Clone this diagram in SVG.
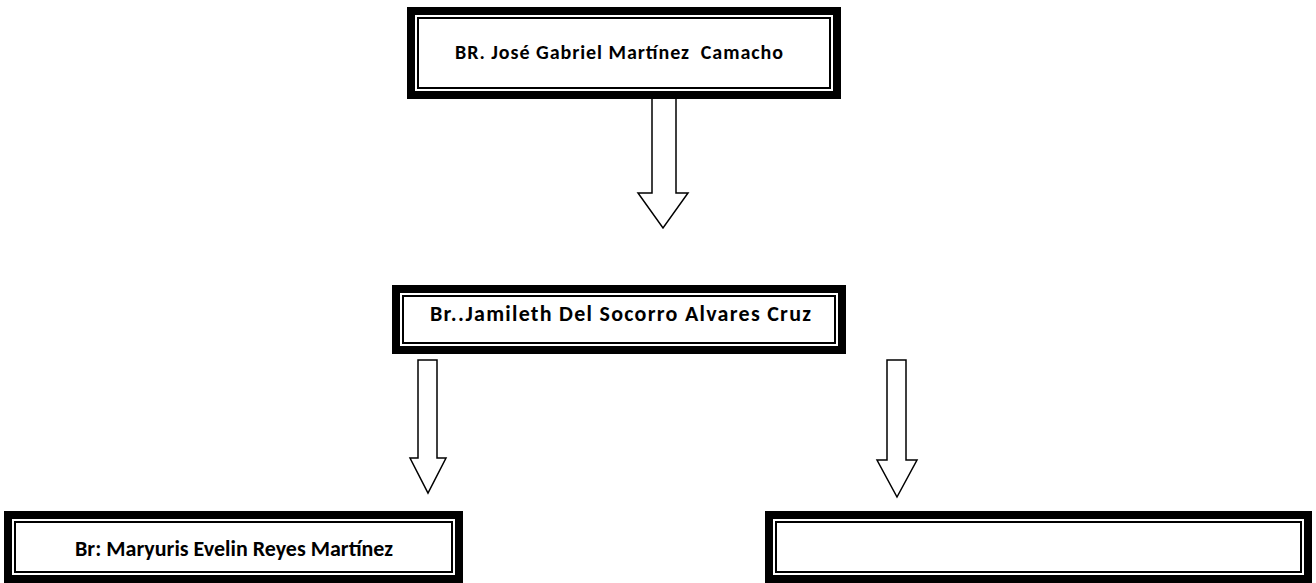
<svg xmlns="http://www.w3.org/2000/svg" width="1316" height="583" viewBox="0 0 1316 583">
<style>
.thick{fill:#fff;stroke:#000;stroke-width:8}
.thin{fill:none;stroke:#000;stroke-width:2}
.arrow{fill:#fff;stroke:#000;stroke-width:1.5;stroke-linejoin:miter}
.lbl{font-family:Carlito,"Open Sans","Liberation Sans",sans-serif;font-weight:bold;fill:#000;white-space:pre}
</style>
<rect width="1316" height="583" fill="#fff"/>
<g id="connectors">
<polygon class="arrow" points="652,96 676,96 676,193 688,193 663,228 638,193 652,193"/>
<polygon class="arrow" points="418,360 437,360 437,458 446,458 428,493 410,458 418,458"/>
<polygon class="arrow" points="887,360 906,360 906,460 917,460 897,497 877,460 887,460"/>
</g>
<g id="node-top">
<rect class="thick" x="411" y="11" width="426" height="84"/>
<rect class="thin" x="418" y="18" width="412" height="70"/>
<text class="lbl" x="455" y="59" font-size="20" textLength="328" xml:space="preserve">BR. José Gabriel Martínez  Camacho</text>
</g>
<g id="node-middle">
<rect class="thick" x="396" y="289" width="446" height="61"/>
<rect class="thin" x="403" y="296" width="432" height="47"/>
<text class="lbl" x="430" y="321" font-size="22" textLength="381">Br..Jamileth Del Socorro Alvares Cruz</text>
</g>
<g id="node-left">
<rect class="thick" x="8" y="515" width="451" height="64"/>
<rect class="thin" x="15" y="522" width="437" height="50"/>
<text class="lbl" x="75" y="556" font-size="22" textLength="318">Br: Maryuris Evelin Reyes Martínez</text>
</g>
<g id="node-right">
<rect class="thick" x="769" y="515" width="539" height="64"/>
<rect class="thin" x="776" y="522" width="525" height="50"/>
</g>
</svg>
